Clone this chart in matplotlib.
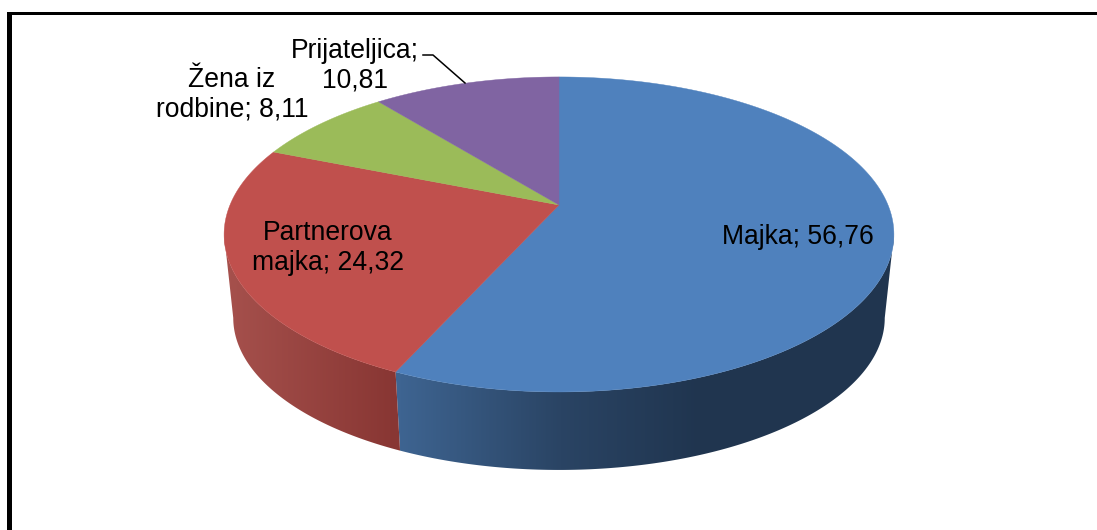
import numpy as np
import matplotlib
matplotlib.use('Agg')
import matplotlib.pyplot as plt
from matplotlib.patches import Rectangle, Polygon
from matplotlib.colors import to_rgb

categories = ['Majka', 'Partnerova majka', 'Žena iz rodbine', 'Prijateljica']
values = [56.76, 24.32, 8.11, 10.81]
labels = ['Majka; 56,76', 'Partnerova\nmajka; 24,32', 'Žena iz\nrodbine; 8,11', 'Prijateljica;\n10,81']
colors = ['#4f81bd', '#c0504d', '#9bbb59', '#8064a2']

label_pos = [(798, 237), (328, 248), (232, 95), (355, 66)]

# side wall shade: pixel x -> colour (only these two slices show a wall)
wall_stops = {
    0: ([400, 560, 700], ['#3e6491', '#2a4464', '#20354f']),
    1: ([230, 396], ['#a5504c', '#883633']),
}

P = 0.187  # perspective


def project(t, cx, cy, b, a):
    # t is clockwise from 12 o'clock
    u = np.sin(t)
    v = np.cos(t)
    w = 1 + P * v
    return cx + b * u / w, cy - a * v / w


def top_face(t):
    return project(t, 559, 205, 329, 152)


def bottom_face(t):
    return project(t, 559, 289.5, 320, 146.7)


fig = plt.figure(figsize=(10.97, 5.30), dpi=100)
ax = fig.add_axes([0, 0, 1, 1])
plt.rcParams['font.family'] = ['Liberation Sans', 'DejaVu Sans']

edges = np.concatenate([[0], np.cumsum(values)]) / sum(values) * 2 * np.pi

# the wall is only seen between the two side extremes of the disc
t_right = np.arccos(-P)
t_left = 2 * np.pi - t_right

# walls first, top faces go over them
grid_x = np.arange(0, 1097)
for i in wall_stops:
    lo = max(edges[i], t_right)
    hi = min(edges[i + 1], t_left)
    ts = np.linspace(lo, hi, 200)
    xs_stop, cols = wall_stops[i]
    rgb = np.array([to_rgb(c) for c in cols])
    shade = np.stack([np.interp(grid_x, xs_stop, rgb[:, k]) for k in range(3)], axis=1)[None, :, :]
    xt, yt = top_face(ts)
    xb, yb = bottom_face(ts)
    poly = Polygon(np.c_[np.r_[xt, xb[::-1]], np.r_[yt, yb[::-1]]], closed=True,
                   transform=ax.transData, facecolor='none', edgecolor='none')
    ax.add_patch(poly)
    im = ax.imshow(shade, extent=(0, 1097, 530, 0), aspect='auto', zorder=2, interpolation='nearest')
    im.set_clip_path(poly)

ax.set_xlim(0, 1097)
ax.set_ylim(530, 0)
ax.axis('off')

for i in range(len(values)):
    ts = np.linspace(edges[i], edges[i + 1], 200)
    x, y = top_face(ts)
    ax.fill(np.r_[559, x], np.r_[205, y], color=colors[i], lw=0.3, zorder=3)

for txt, (x, y) in zip(labels, label_pos):
    ax.text(x, y, txt, ha='center', va='center', fontsize=19.1, linespacing=1.16,
            color='black', zorder=5)

# leader line for Prijateljica
ax.plot([423, 433, 465], [55, 55, 83], color='black', lw=1.1, zorder=4)

# frame, the picture cuts it off right and bottom
ax.add_patch(Rectangle((7, 12), 1090, 3, color='black', lw=0, zorder=6))
ax.add_patch(Rectangle((7, 12), 5, 518, color='black', lw=0, zorder=6))

fig.savefig('out.png', dpi=100)
